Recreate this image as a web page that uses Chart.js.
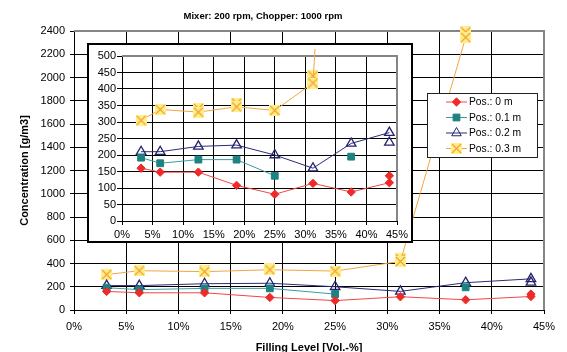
<!DOCTYPE html>
<html><head><meta charset="utf-8">
<script src="https://cdn.jsdelivr.net/npm/chart.js@4/dist/chart.umd.min.js"></script>
<style>
html,body{margin:0;padding:0;background:#fff;}
#wrap{position:relative;width:567px;height:352px;overflow:hidden;background:#fff;}
#main{position:absolute;left:0;top:0;}
#inset{position:absolute;left:87px;top:43px;background:#fff;}
</style></head><body>
<div id="wrap"><canvas id="main" width="567" height="352"></canvas><canvas id="inset" width="326" height="200"></canvas></div>
<script>
// ---------- data ----------
const chartTitle = 'Mixer: 200 rpm, Chopper: 1000 rpm';
const xTitle = 'Filling Level [Vol.-%]';
const yTitle = 'Concentration [g/m3]';
const fillLevels = [3.125, 6.25, 12.5, 18.75, 25, 31.25, 37.5, 43.75];
const seriesNames = ['Pos.: 0 m', 'Pos.: 0.1 m', 'Pos.: 0.2 m', 'Pos.: 0.3 m'];
const pos0  = [160, 148, 148, 108, 81, 114, 88, 116];
const pos01 = [192, 175, 186, 186, 137, null, 195, null];
const pos02 = [210, 210, 226, 230, 200, 160, 235, 268];
const pos03 = [305, 338, 330, 346, 335, 418, 2345, null];
// repeated measurements (second marker at the same filling level)
const pos0Repeat  = [null, null, null, null, null, null, null, 137];
const pos01Repeat = [null, null, null, null, null, null, null, null];
const pos02Repeat = [null, null, null, null, null, null, null, 238];
const pos03Repeat = [null, null, 341, 357, null, 440, 2392, null];
const xTickLabels = ['0%','5%','10%','15%','20%','25%','30%','35%','40%','45%'];
const mainYTicks  = [0,200,400,600,800,1000,1200,1400,1600,1800,2000,2200,2400];
const insetYTicks = [0,50,100,150,200,250,300,350,400,450,500];

// ---------- styles ----------
Chart.defaults.font.family = '"Liberation Sans", Arial, sans-serif';
Chart.defaults.color = '#000';

function makeXMarker(size){
  const c = document.createElement('canvas'); c.width = size; c.height = size;
  const g = c.getContext('2d');
  g.fillStyle = '#FFEF86'; g.fillRect(0,0,size,size);
  g.strokeStyle = '#F2A03A'; g.lineWidth = 1.2;
  g.beginPath(); g.moveTo(1,1); g.lineTo(size-1,size-1); g.moveTo(size-1,1); g.lineTo(1,size-1); g.stroke();
  return c;
}
const xImg = makeXMarker(11);

const styles = [
  {line:'#F24646', border:'#EE2A2A', fill:'#EE2A2A', ps:'rectRot', r:4.2, bw:1},
  {line:'#3A9E9E', border:'#1C8282', fill:'#1C8282', ps:'rect', r:4.8, bw:1},
  {line:'#2A2A78', border:'#23236E', fill:'rgba(255,255,255,0)', ps:'triangle', r:5.5, bw:1.3},
  {line:'#F5A442', border:'#F2A03A', fill:'#FFEF86', ps:xImg, r:5.5, bw:1},
];
const mainSeries = [pos0, pos01, pos02, pos03];
const repeatSeries = [pos0Repeat, pos01Repeat, pos02Repeat, pos03Repeat];

function pts(arr){ return fillLevels.map((x,i)=>({x:x, y:arr[i]})); }

function buildDatasets(isInset){
  const ds = [];
  mainSeries.forEach((arr, k)=>{
    const s = styles[k];
    const d = {
      label: seriesNames[k], data: pts(arr), showLine:true,
      borderColor: s.line, borderWidth: 1, spanGaps:false,
      pointStyle: s.ps, pointRadius: s.r, pointBackgroundColor: s.fill,
      pointBorderColor: s.border, pointBorderWidth: s.bw, tension:0
    };
    d.clip = isInset ? {left:0, top:(k===3?7:0), right:0, bottom:0} : false;
    ds.push(d);
  });
  repeatSeries.forEach((arr, k)=>{
    const s = styles[k];
    ds.push({
      label: '_repeat'+k, data: pts(arr), showLine:false,
      pointStyle: s.ps, pointRadius: s.r, pointBackgroundColor: s.fill,
      pointBorderColor: s.border, pointBorderWidth: s.bw,
      clip: isInset ? 0 : false
    });
  });
  return ds;
}

const frameBorder = {
  id:'frameBorder',
  beforeDatasetsDraw(chart){
    const {ctx, chartArea:a} = chart;
    ctx.save();
    ctx.strokeStyle = '#858585'; ctx.lineWidth = 2;
    ctx.beginPath(); ctx.moveTo(a.left, a.top); ctx.lineTo(a.right, a.top); ctx.lineTo(a.right, a.bottom); ctx.stroke();
    ctx.restore();
  }
};

const mainExtras = {
  id:'mainExtras',
  afterDraw(chart){
    const ctx = chart.ctx;
    ctx.save();
    // title
    ctx.font = 'bold 9.5px "Liberation Sans", Arial, sans-serif';
    ctx.fillStyle = '#000'; ctx.textAlign = 'center'; ctx.textBaseline = 'middle';
    ctx.fillText(chartTitle, 263, 16);
    // legend
    const lx = 427.5, ly = 93.5, lw = 110, lh = 64;
    ctx.fillStyle = '#fff'; ctx.fillRect(lx, ly, lw, lh);
    ctx.strokeStyle = '#222'; ctx.lineWidth = 1; ctx.strokeRect(lx, ly, lw, lh);
    const rows = [102, 117.5, 133, 148.5];
    seriesNames.forEach((name, k)=>{
      const s = styles[k], y = rows[k];
      ctx.strokeStyle = s.line; ctx.lineWidth = 1;
      ctx.beginPath(); ctx.moveTo(446, y); ctx.lineTo(467, y); ctx.stroke();
      ctx.fillStyle = s.fill; ctx.strokeStyle = s.border;
      Chart.helpers.drawPoint(ctx, {pointStyle:s.ps, radius:s.r, rotation:0, borderWidth:s.bw}, 456.5, y);
      ctx.fillStyle = '#000'; ctx.textAlign = 'left'; ctx.textBaseline = 'middle';
      ctx.font = '10.3px "Liberation Sans", Arial, sans-serif';
      ctx.fillText(name, 469, y + 0.5);
    });
    ctx.restore();
  }
};

const insetBorder = {
  id:'insetBorder',
  afterDraw(chart){
    const ctx = chart.ctx;
    ctx.save(); ctx.strokeStyle = '#000'; ctx.lineWidth = 2;
    ctx.strokeRect(1, 1, chart.width - 2, chart.height - 2);
    ctx.restore();
  }
};

new Chart(document.getElementById('main'), {
  type:'scatter',
  data:{datasets: buildDatasets(false)},
  options:{
    responsive:false, animation:false, devicePixelRatio:1,
    layout:{padding:{top:31, right:23, left:0, bottom:0}},
    plugins:{legend:{display:false}, tooltip:{enabled:false}, title:{display:false}},
    scales:{
      x:{type:'linear', min:0, max:45,
        ticks:{stepSize:5, autoSkip:false, maxRotation:0, padding:6, font:{size:11}, color:'#000',
          callback:(v,i)=>xTickLabels[i]},
        grid:{color:'#000', lineWidth:1, tickLength:4},
        border:{color:'#000', width:1},
        title:{display:true, text:xTitle, font:{size:11, weight:'bold'}, padding:{top:0, bottom:-2.6}},
        afterFit:(s)=>{s.height = 42;}
      },
      y:{type:'linear', min:mainYTicks[0], max:mainYTicks[mainYTicks.length-1],
        afterBuildTicks:(s)=>{s.ticks = mainYTicks.map(v=>({value:v}));},
        ticks:{padding:5, font:{size:11}, color:'#000', autoSkip:false, callback:(v)=>String(v)},
        grid:{color:'#000', lineWidth:1, tickLength:4},
        border:{color:'#000', width:1},
        title:{display:true, text:yTitle, font:{size:11, weight:'bold'}, padding:{top:18.4, bottom:0}},
        afterFit:(s)=>{s.width = 74;}
      }
    }
  },
  plugins:[frameBorder, mainExtras]
});

new Chart(document.getElementById('inset'), {
  type:'scatter',
  data:{datasets: buildDatasets(true)},
  options:{
    responsive:false, animation:false, devicePixelRatio:1,
    layout:{padding:{top:13, right:16, left:0, bottom:0}},
    plugins:{legend:{display:false}, tooltip:{enabled:false}, title:{display:false}},
    scales:{
      x:{type:'linear', min:0, max:45,
        ticks:{stepSize:5, autoSkip:false, maxRotation:0, padding:3, font:{size:11}, color:'#000',
          callback:(v,i)=>xTickLabels[i]},
        grid:{color:'#000', lineWidth:1, tickLength:4},
        border:{color:'#000', width:1},
        afterFit:(s)=>{s.height = 22;}
      },
      y:{type:'linear', min:insetYTicks[0], max:insetYTicks[insetYTicks.length-1],
        afterBuildTicks:(s)=>{s.ticks = insetYTicks.map(v=>({value:v}));},
        ticks:{padding:1, font:{size:11}, color:'#000', autoSkip:false, callback:(v)=>String(v)},
        grid:{color:'#000', lineWidth:1, tickLength:5},
        border:{color:'#000', width:1},
        afterFit:(s)=>{s.width = 35;}
      }
    }
  },
  plugins:[frameBorder, insetBorder]
});
</script>
</body></html>
